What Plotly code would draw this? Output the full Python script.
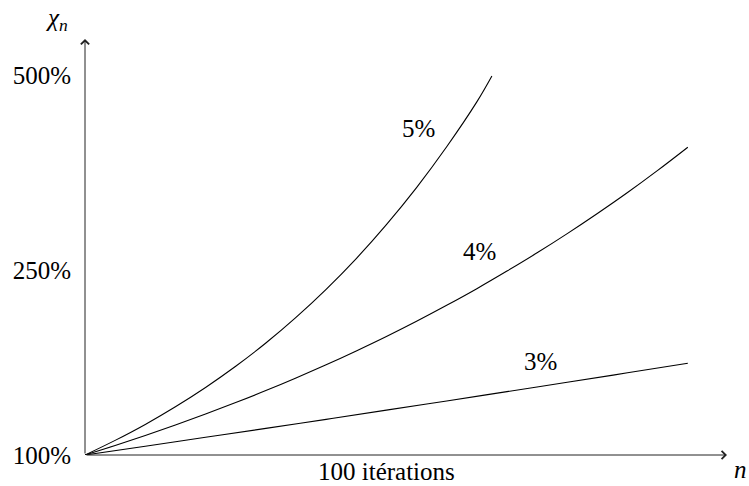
import plotly.graph_objects as go

# Data (n = iterations, chi = value in %)
n_5 = [0, 5, 10, 15, 20, 25, 30, 35, 40, 45, 50, 55, 60, 65, 67.5]
chi_5 = [100, 115.4, 132.2, 150.8, 171.1, 193.4, 217.9, 244.9, 274.4, 306.8, 342.5, 381.5, 424.5, 471.7, 499]

n_4 = [0, 5, 10, 15, 20, 25, 30, 35, 40, 45, 50, 55, 60, 65, 70, 75, 80, 85, 90, 95, 100]
chi_4 = [100, 110.0, 120.5, 131.5, 143.1, 155.2, 167.8, 181.1, 195.0, 209.6, 224.8,
         240.8, 257.6, 275.1, 293.6, 312.8, 333.0, 354.2, 376.3, 399.6, 424.0]

n_3 = [0, 10, 20, 30, 40, 50, 60, 70, 80, 90, 100]
chi_3 = [100, 109.3, 118.6, 128.0, 137.5, 147.2, 156.9, 166.7, 176.6, 186.5, 196.6]

series_labels = ["5%", "4%", "3%"]
label_pos_n = [55.4, 65.5, 75.5]
label_pos_chi = [444, 314, 198]

y_tick_vals = [100, 295, 500]
y_tick_text = ["100%", "250%", "500%"]

x_range = [0, 106.5]
y_range = [100, 537.9]

FONT = "Liberation Serif"
FS = 25


def serif(t):
    return "<span style='font-family:Liberation Serif'>" + t + "</span>"


fig = go.Figure()
for xs, ys in [(n_5, chi_5), (n_4, chi_4), (n_3, chi_3)]:
    fig.add_trace(go.Scatter(x=xs, y=ys, mode="lines",
                             line=dict(color="black", width=1.1, shape="spline"),
                             hoverinfo="skip", showlegend=False))

# axes drawn as arrows
fig.add_annotation(x=x_range[1], y=y_range[0], ax=0, ay=y_range[0], xref="x", yref="y",
                   axref="x", ayref="y", text="", showarrow=True, arrowhead=4,
                   arrowsize=1.6, arrowwidth=1, arrowcolor="#222")
fig.add_annotation(x=0, y=y_range[1], ax=0, ay=y_range[0], xref="x", yref="y",
                   axref="x", ayref="y", text="", showarrow=True, arrowhead=4,
                   arrowsize=1.6, arrowwidth=1, arrowcolor="#222")

for t, xn, yc in zip(series_labels, label_pos_n, label_pos_chi):
    fig.add_annotation(x=xn, y=yc, text=serif(t), showarrow=False,
                       xanchor="center", yanchor="middle",
                       font=dict(family=FONT, size=FS, color="black"))

fig.add_annotation(x=-0.0436, y=1.0457, xref="paper", yref="paper",
                   text=serif("<i>χ</i><sub><i>n</i></sub>"), showarrow=False,
                   xanchor="center", yanchor="middle",
                   font=dict(family=FONT, size=FS, color="black"))
fig.add_annotation(x=1.0218, y=-0.036, xref="paper", yref="paper",
                   text=serif("<i>n</i>"), showarrow=False,
                   xanchor="center", yanchor="middle",
                   font=dict(family=FONT, size=FS, color="black"))
fig.add_annotation(x=0.4704, y=-0.040, xref="paper", yref="paper",
                   text=serif("100 itérations"), showarrow=False,
                   xanchor="center", yanchor="middle",
                   font=dict(family=FONT, size=FS, color="black"))

fig.update_layout(
    width=749, height=486,
    margin=dict(l=85, r=22, t=39, b=31),
    plot_bgcolor="white", paper_bgcolor="white",
    font=dict(family=FONT, size=FS, color="black"),
    xaxis=dict(range=x_range, showgrid=False, zeroline=False, showline=False,
               showticklabels=False, ticks=""),
    yaxis=dict(range=y_range, showgrid=False, zeroline=False, showline=False,
               tickvals=y_tick_vals, ticktext=y_tick_text, ticks="",
               ticklabelstandoff=13, tickfont=dict(family=FONT, size=FS, color="black")),
    hovermode=False,
)

fig.write_html("out.html", config={"displayModeBar": False},
               post_script="document.body.style.margin='0';")
